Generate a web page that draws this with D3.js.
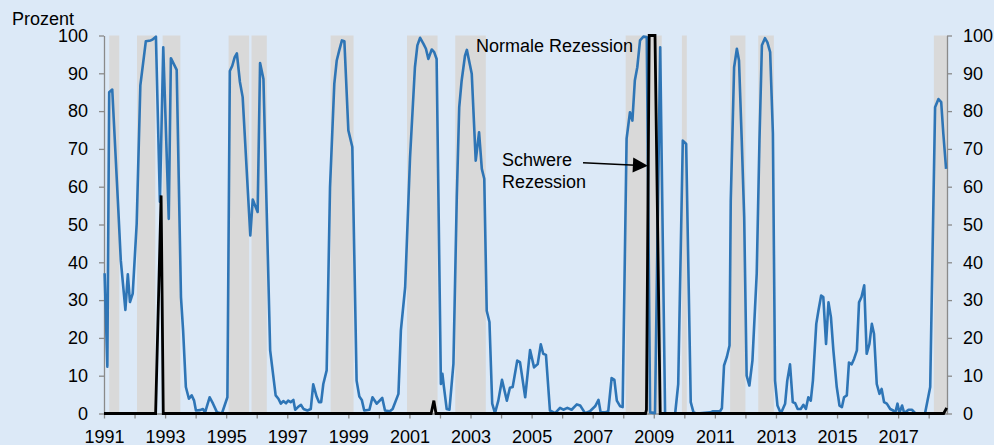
<!DOCTYPE html>
<html>
<head>
<meta charset="utf-8">
<script src="https://cdn.jsdelivr.net/npm/d3@7"></script>
<style>
  body { margin: 0; background: #dce9f7; }
  svg { display: block; font-family: "Liberation Sans", Arial, sans-serif; }
  .axis path, .axis line { stroke: #8a8a8a; stroke-width: 1.3; }
  .axis text { font-size: 18px; fill: #000; }
</style>
</head>
<body>
<svg width="994" height="445"></svg>
<script>
// shaded periods (start, end in decimal years)
var bandStart = [1991.17, 1992.08, 1992.92, 1995.08, 1995.83, 1998.42, 2000.92, 2002.5, 2008.08, 2009.92, 2011.5, 2012.42, 2018.17];
var bandEnd   = [1991.5, 1992.68, 1993.5, 1995.75, 1996.33, 1999.17, 2001.92, 2003.5, 2009.26, 2010.08, 2012.0, 2012.93, 2018.6];

// probability of a normal recession, [year, percent]
var normal = [
  [1991.02, 37.1], [1991.11, 12.4], [1991.17, 85.0], [1991.27, 85.7], [1991.47, 53.7], [1991.55, 40.5],
  [1991.70, 27.4], [1991.78, 36.8], [1991.85, 29.5], [1991.94, 31.7], [1992.07, 50.2], [1992.19, 86.8],
  [1992.37, 98.5], [1992.53, 98.7], [1992.60, 99.0], [1992.70, 99.7], [1992.83, 56.0], [1992.94, 96.9],
  [1993.12, 51.5], [1993.19, 94.0], [1993.38, 90.9], [1993.52, 30.8], [1993.59, 22.0], [1993.68, 7.0],
  [1993.78, 3.9], [1993.87, 4.8], [1993.95, 3.4], [1994.01, 0.8], [1994.14, 0.9], [1994.24, 1.2],
  [1994.31, 0.3], [1994.46, 4.3], [1994.57, 2.6], [1994.70, 0.3], [1994.86, 0.0], [1995.04, 4.3],
  [1995.12, 90.6], [1995.20, 92.0], [1995.28, 94.3], [1995.35, 95.3], [1995.45, 87.7], [1995.54, 83.7],
  [1995.79, 47.1], [1995.87, 56.6], [1996.03, 53.3], [1996.11, 92.7], [1996.22, 88.5], [1996.44, 16.7],
  [1996.62, 4.8], [1996.71, 3.9], [1996.79, 2.6], [1996.87, 3.3], [1996.96, 2.7], [1997.03, 3.4],
  [1997.11, 3.0], [1997.20, 3.6], [1997.26, 1.0], [1997.35, 1.7], [1997.45, 2.3], [1997.53, 1.2],
  [1997.66, 0.8], [1997.77, 1.2], [1997.85, 7.7], [1997.96, 4.5], [1998.04, 3.0], [1998.11, 3.0],
  [1998.18, 7.8], [1998.29, 11.4], [1998.40, 59.9], [1998.54, 87.2], [1998.62, 93.4], [1998.70, 96.0],
  [1998.79, 98.7], [1998.87, 98.5], [1999.00, 74.9], [1999.13, 70.5], [1999.27, 8.7], [1999.36, 4.5],
  [1999.44, 3.6], [1999.52, 0.8], [1999.69, 1.0], [1999.79, 4.3], [1999.93, 2.6], [2000.11, 4.1],
  [2000.20, 0.8], [2000.36, 0.6], [2000.45, 1.2], [2000.64, 5.2], [2000.72, 22.0], [2000.86, 33.4],
  [2001.02, 67.8], [2001.18, 91.6], [2001.26, 97.4], [2001.35, 99.4], [2001.46, 97.8], [2001.54, 96.5],
  [2001.62, 93.8], [2001.73, 96.3], [2001.81, 95.6], [2001.89, 93.8], [2002.03, 7.8], [2002.08, 10.5],
  [2002.13, 7.0], [2002.22, 1.2], [2002.31, 1.0], [2002.44, 13.1], [2002.55, 57.2], [2002.63, 81.0],
  [2002.71, 88.1], [2002.82, 94.7], [2002.88, 96.2], [2003.04, 89.9], [2003.17, 66.9], [2003.28, 74.4],
  [2003.37, 64.7], [2003.45, 62.1], [2003.53, 27.2], [2003.62, 24.2], [2003.71, 2.6], [2003.80, 0.1],
  [2003.91, 3.4], [2004.03, 8.9], [2004.19, 3.4], [2004.29, 6.8], [2004.38, 7.0], [2004.53, 14.0],
  [2004.62, 13.6], [2004.79, 4.3], [2004.95, 16.8], [2005.08, 12.2], [2005.20, 13.1], [2005.30, 18.3],
  [2005.38, 15.8], [2005.47, 15.5], [2005.60, 0.8], [2005.77, 0.1], [2005.93, 1.5], [2006.04, 1.0],
  [2006.17, 1.5], [2006.31, 1.0], [2006.48, 2.4], [2006.59, 2.1], [2006.75, 0.1], [2006.91, 0.6],
  [2007.08, 1.9], [2007.19, 3.6], [2007.26, 0.3], [2007.40, 0.3], [2007.51, 0.6], [2007.62, 9.4],
  [2007.71, 8.9], [2007.79, 3.4], [2007.90, 1.9], [2007.98, 1.7], [2008.11, 72.7], [2008.22, 79.7],
  [2008.30, 77.5], [2008.38, 88.1], [2008.46, 91.6], [2008.55, 98.7], [2008.66, 99.7], [2008.77, 99.6],
  [2008.88, 0.3], [2009.04, 0.1], [2009.21, 96.9], [2009.37, 0.0], [2009.70, 0.0], [2009.80, 7.8],
  [2009.95, 72.2], [2010.06, 71.3], [2010.21, 3.0], [2010.30, 0.3], [2010.41, 0.0], [2010.85, 0.3],
  [2010.94, 0.6], [2011.17, 0.6], [2011.23, 1.4], [2011.30, 12.7], [2011.39, 14.9], [2011.48, 18.0],
  [2011.52, 56.3], [2011.63, 91.6], [2011.72, 96.5], [2011.79, 93.4], [2011.88, 72.2], [2011.96, 51.9],
  [2012.04, 10.0], [2012.13, 7.4], [2012.23, 14.0], [2012.37, 37.0], [2012.46, 72.2], [2012.54, 97.4],
  [2012.64, 99.3], [2012.72, 98.2], [2012.81, 95.6], [2012.90, 74.0], [2012.97, 8.7], [2013.05, 2.1],
  [2013.16, 0.0], [2013.30, 2.6], [2013.37, 8.7], [2013.46, 13.0], [2013.55, 3.0], [2013.63, 2.7],
  [2013.71, 1.2], [2013.81, 1.2], [2013.90, 2.3], [2013.98, 1.2], [2014.06, 4.3], [2014.14, 3.4],
  [2014.21, 8.7], [2014.32, 23.7], [2014.39, 27.2], [2014.48, 31.2], [2014.55, 30.8], [2014.64, 18.4],
  [2014.72, 29.4], [2014.80, 25.5], [2014.88, 16.7], [2014.99, 7.0], [2015.08, 2.1], [2015.16, 1.7],
  [2015.23, 4.3], [2015.32, 4.8], [2015.39, 13.5], [2015.48, 13.0], [2015.56, 14.5], [2015.65, 16.7],
  [2015.72, 29.4], [2015.80, 30.8], [2015.89, 33.9], [2015.97, 15.8], [2016.06, 18.4], [2016.14, 23.7],
  [2016.21, 21.1], [2016.30, 7.8], [2016.39, 5.2], [2016.46, 6.5], [2016.54, 3.0], [2016.63, 2.6],
  [2016.74, 1.2], [2016.84, 0.8], [2016.90, 0.0], [2016.98, 2.6], [2017.04, 0.1], [2017.13, 2.1],
  [2017.20, 0.1], [2017.34, 1.0], [2017.45, 1.0], [2017.56, 0.1], [2017.88, 0.0], [2018.05, 7.0],
  [2018.21, 81.0], [2018.32, 83.2], [2018.41, 82.4], [2018.48, 74.0], [2018.57, 64.7]
];

// probability of a severe recession, [year, percent]
var severe = [
  [1991.0, 0], [1992.69, 0], [1992.87, 57.7], [1992.94, 0], [2001.71, 0], [2001.80, 3.4], [2001.87, 0],
  [2008.73, 0], [2008.76, 1], [2008.85, 100], [2009.04, 100], [2009.21, 0], [2018.49, 0], [2018.59, 1.5]
];

var yTicks = [0, 10, 20, 30, 40, 50, 60, 70, 80, 90, 100];
var xTicks = d3.range(1991, 2019);

var svg = d3.select("svg");

var x = d3.scaleLinear().domain([1991, 2018.6]).range([104, 947]);
var y = d3.scaleLinear().domain([0, 100]).range([413.5, 35.5]);

// shaded bands
svg.append("g")
  .selectAll("rect")
  .data(bandStart)
  .enter().append("rect")
    .attr("x", d => x(d))
    .attr("width", (d, i) => x(bandEnd[i]) - x(d))
    .attr("y", y(100))
    .attr("height", y(0) - y(100))
    .attr("fill", "#d9d9d9");

// axes
svg.append("g")
    .attr("class", "axis")
    .attr("transform", "translate(" + x.range()[0] + ",0)")
    .call(d3.axisLeft(y).tickValues(yTicks).tickSize(5).tickSizeOuter(0).tickPadding(11));

svg.append("g")
    .attr("class", "axis")
    .attr("transform", "translate(" + x.range()[1] + ",0)")
    .call(d3.axisRight(y).tickValues(yTicks).tickSize(5).tickSizeOuter(0).tickPadding(11));

svg.append("g")
    .attr("class", "axis")
    .attr("transform", "translate(0," + y(0) + ")")
    .call(d3.axisBottom(x).tickValues(xTicks).tickSize(5).tickSizeOuter(0).tickPadding(12)
      .tickFormat(d => (d % 2 == 1) ? String(d) : ""));

svg.selectAll(".axis .domain").attr("fill", "none");

var line = d3.line()
    .x(d => x(d[0]))
    .y(d => y(d[1]));

svg.append("path")
    .datum(normal)
    .attr("d", line)
    .attr("fill", "none")
    .attr("stroke", "#2e75b6")
    .attr("stroke-width", 2.6)
    .attr("stroke-linejoin", "round");

svg.append("path")
    .datum(severe)
    .attr("d", line)
    .attr("fill", "none")
    .attr("stroke", "#000")
    .attr("stroke-width", 2.8)
    .attr("stroke-linejoin", "miter");

// labels
svg.append("text")
    .attr("x", 12).attr("y", 25)
    .attr("font-size", 18)
    .text("Prozent");

svg.append("text")
    .attr("x", 476).attr("y", 52)
    .attr("font-size", 18)
    .text("Normale Rezession");

var note = svg.append("text")
    .attr("x", 502).attr("y", 166)
    .attr("font-size", 18);
note.append("tspan").attr("x", 502).text("Schwere");
note.append("tspan").attr("x", 502).attr("dy", 22).text("Rezession");

// arrow pointing to the severe line
var ax1 = 583, ay1 = 162.7, ax2 = x(2008.84) - 1, ay2 = 165.7;
var ang = Math.atan2(ay2 - ay1, ax2 - ax1) * 180 / Math.PI;
svg.append("line")
    .attr("x1", ax1).attr("y1", ay1)
    .attr("x2", ax2 - 12).attr("y2", ay2 - 0.5)
    .attr("stroke", "#000")
    .attr("stroke-width", 1.5);
svg.append("path")
    .attr("d", "M0,0 L-15,-7.5 L-15,7.5 Z")
    .attr("transform", "translate(" + ax2 + "," + ay2 + ") rotate(" + ang + ")")
    .attr("fill", "#000");
</script>
</body>
</html>
